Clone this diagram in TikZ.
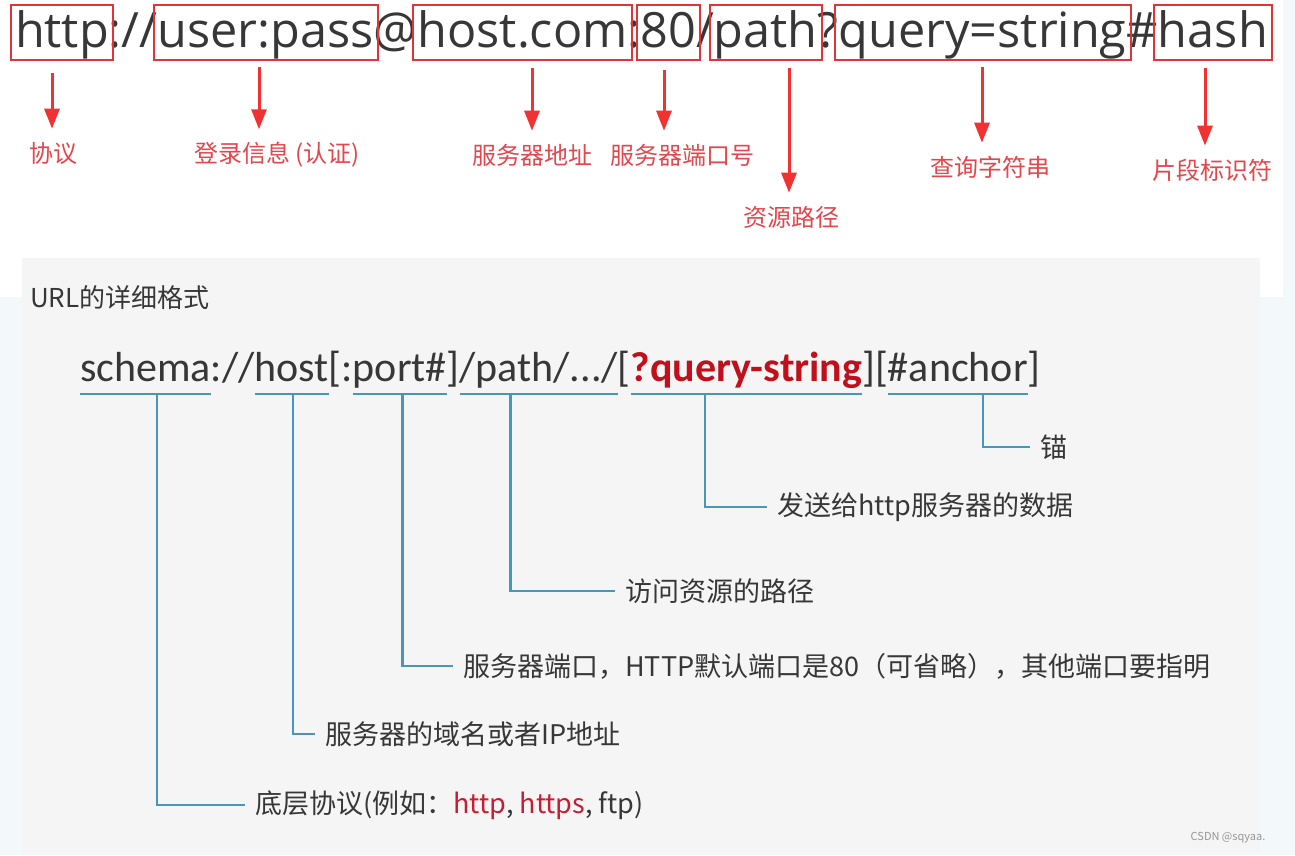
\documentclass[tikz,border=0pt]{standalone}
\usepackage{fontspec}
\setmainfont{Noto Sans CJK SC}
\newfontfamily\urlfont{Open Sans}
\newfontfamily\fmtfont{Carlito}
\usepackage{xcolor}
\usepackage{tikz}
\usetikzlibrary{arrows.meta,positioning,fit}
\definecolor{outerbg}{RGB}{243,248,251}
\definecolor{panel}{RGB}{245,245,245}
\definecolor{ink}{RGB}{55,55,55}
\definecolor{boxred}{RGB}{226,52,56}
\definecolor{arrowred}{RGB}{240,50,50}
\definecolor{labelred}{RGB}{228,70,75}
\definecolor{lineblue}{RGB}{70,150,190}
\definecolor{qred}{RGB}{192,16,28}
\definecolor{httpred}{RGB}{196,30,50}
\definecolor{markgray}{RGB}{150,150,150}

\begin{document}
\begin{tikzpicture}[x=1pt,y=-1pt,
      part/.style={inner sep=0pt,outer sep=0pt,text=ink,
                   font=\urlfont\fontsize{48.6}{48.6}\selectfont,
                   text height=39pt,text depth=10pt},
      redbox/.style={draw=boxred,line width=2pt,inner xsep=4pt,inner ysep=3pt},
      arr/.style={-{Triangle[length=20pt,width=15pt]},arrowred,
                  line width=3pt,shorten >=13pt},
      tag/.style={inner sep=0pt,text=labelred,font=\fontsize{24}{24}\selectfont},
      fmt/.style={inner sep=0pt,outer sep=0pt,text=ink,
                  font=\fmtfont\fontsize{42}{42}\selectfont,
                  text height=31pt,text depth=10pt},
      uline/.style={draw=lineblue,line width=2.5pt},
      link/.style={lineblue,line width=2.5pt,shorten >=10pt},
      note/.style={inner sep=0pt,anchor=west,text=ink,
                   font=\fontsize{27}{27}\selectfont}
    ]
      \useasboundingbox (0,0) rectangle (1295,855);
      % backgrounds
      \fill[outerbg] (0,0) rectangle (1295,855);
      \fill[white] (0,0) rectangle (1283,297);
      \fill[panel] (22,258) rectangle (1260,852);

      % example url, split into parts
      \node[part,anchor=base west] (u1) at (15,47) {http};
      \node[part,base right=0pt of u1]  (u2)  {://};
      \node[part,base right=0pt of u2]  (u3)  {user:pass};
      \node[part,base right=0pt of u3]  (u4)  {@};
      \node[part,base right=0pt of u4]  (u5)  {host.com};
      \node[part,base right=0pt of u5]  (u6)  {:};
      \node[part,base right=0pt of u6]  (u7)  {80};
      \node[part,base right=0pt of u7]  (u8)  {/};
      \node[part,base right=0pt of u8]  (u9)  {path};
      \node[part,base right=0pt of u9]  (u10) {?};
      \node[part,base right=0pt of u10] (u11) {query=string};
      \node[part,base right=0pt of u11] (u12) {\#};
      \node[part,base right=0pt of u12] (u13) {hash};
      \foreach \p/\b in {u1/b1,u3/b2,u5/b3,u7/b4,u9/b5,u11/b6,u13/b7}
        \node[redbox,fit=(\p)] (\b) {};

      % red labels
      \node[tag] (l1) at (53,153)  {协议};
      \node[tag] (l2) at (277,155) {登录信息 (认证)};
      \node[tag] (l3) at (532,155) {服务器地址};
      \node[tag] (l4) at (682,155) {服务器端口号};
      \node[tag] (l5) at (791,217) {资源路径};
      \node[tag] (l6) at (990,167) {查询字符串};
      \node[tag] (l7) at (1212,170){片段标识符};
      \coordinate (t1) at (52,73);
      \coordinate (t2) at (259,67);
      \coordinate (t3) at (532,68);
      \coordinate (t4) at (664,70);
      \coordinate (t5) at (789,68);
      \coordinate (t6) at (982,67);
      \coordinate (t7) at (1205,68);
      \foreach \i in {1,...,7}
        \draw[arr] (t\i) -- (t\i |- l\i.north);

      % detailed format
      \node[anchor=west,inner sep=0pt,text=ink,font=\fontsize{26}{26}\selectfont]
        (title) at (30,298) {URL的详细格式};
      \node[fmt,anchor=base west] (f1) at (80,381) {schema};
      \node[fmt,base right=0pt of f1]  (f2)  {://};
      \node[fmt,base right=0pt of f2]  (f3)  {host};
      \node[fmt,base right=0pt of f3]  (f4)  {[:};
      \node[fmt,base right=0pt of f4]  (f5)  {port\#};
      \node[fmt,base right=0pt of f5]  (f6)  {]};
      \node[fmt,base right=0pt of f6]  (f7)  {/path/.../};
      \node[fmt,base right=0pt of f7]  (f8)  {[};
      \node[fmt,base right=0pt of f8,text=qred] (f9) {\bfseries ?query-string};
      \node[fmt,base right=0pt of f9]  (f10) {][};
      \node[fmt,base right=0pt of f10] (f11) {\#anchor};
      \node[fmt,base right=0pt of f11] (f12) {]};

      \node[note] (d1) at (255,805) {底层协议(例如：\textcolor{httpred}{http}, \textcolor{httpred}{https}, ftp)};
      \node[note] (d2) at (325,734) {服务器的域名或者IP地址};
      \node[note] (d3) at (463,666) {服务器端口，HTTP默认端口是80（可省略），其他端口要指明};
      \node[note] (d4) at (625,591) {访问资源的路径};
      \node[note] (d5) at (777,507) {发送给http服务器的数据};
      \node[note] (d6) at (1040,447) {锚};

      \foreach \f/\c/\d/\k in {f1/c1/d1/.59,f3/c2/d2/.52,f5/c3/d3/.53,
                               f7/c4/d4/.32,f9/c5/d5/.32,f11/c6/d6/.68}{
        \draw[uline] ([yshift=-3pt]\f.south west) -- coordinate[pos=\k] (\c)
                     ([yshift=-3pt]\f.south east);
        \draw[link] (\c) |- (\d.west);
      }

      \node[inner sep=0pt,text=markgray,font=\fontsize{11}{11}\selectfont]
        (mark) at (1228,838) {CSDN @sqyaa.};
    \end{tikzpicture}
\end{document}
